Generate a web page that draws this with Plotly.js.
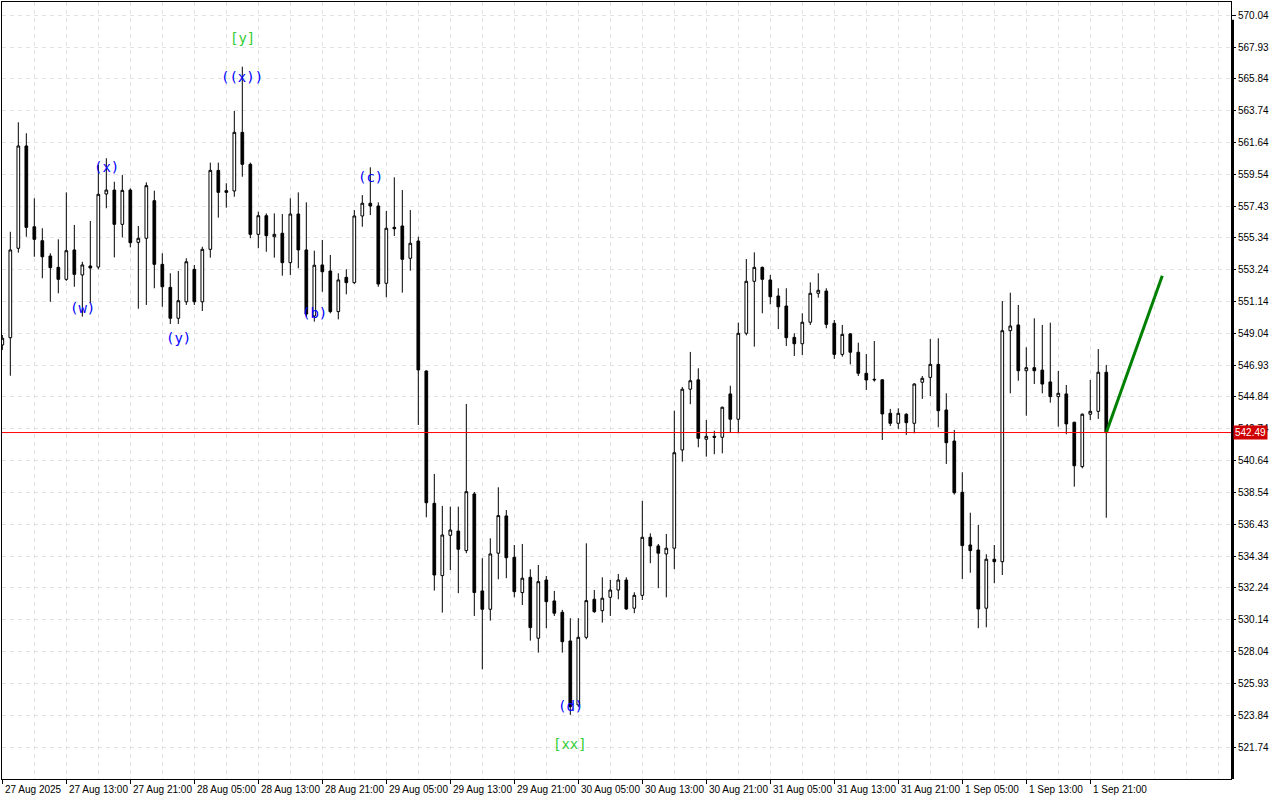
<!DOCTYPE html>
<html><head><meta charset="utf-8">
<script src="https://cdn.plot.ly/plotly-3.0.1.min.js"></script>
<style>html,body{margin:0;padding:0;background:#fff;}#chart{width:1280px;height:800px;}</style>
</head><body><div id="chart"></div>
<script>
// Hourly bars from 27 Aug 2025 05:00
const openP = [548.27,548.75,554.65,561.40,556.07,555.15,554.14,553.39,552.60,554.54,
552.89,553.48,553.41,558.23,558.49,556.23,558.49,555.04,555.31,557.79,
553.59,552.07,550.03,551.12,553.26,551.12,554.58,559.79,558.45,558.43,
562.30,560.19,555.57,556.80,555.41,555.64,553.70,556.91,554.54,550.18,
553.55,553.15,550.47,552.73,552.38,556.78,557.62,557.44,552.34,556.03,
556.12,553.99,555.13,546.55,537.82,533.05,535.71,535.99,534.70,538.44,
532.04,530.83,534.53,536.99,534.26,531.93,532.94,528.92,532.76,531.38,
530.63,528.74,524.52,528.98,531.49,530.74,531.62,532.10,532.76,530.90,
531.75,535.58,535.01,534.48,534.86,541.34,545.35,545.97,542.05,542.24,
542.18,545.04,543.37,549.04,552.47,553.39,552.56,551.50,550.84,548.77,
548.35,549.77,551.68,551.83,549.70,547.65,549.00,547.79,546.40,545.96,
545.97,543.76,543.10,543.70,543.10,545.81,546.13,546.99,543.98,541.93,
538.55,535.07,534.74,530.90,534.13,533.97,549.21,549.59,546.57,546.77,
546.61,545.83,544.86,545.04,543.17,540.24,543.70,543.89,546.47];
const highP = [548.93,555.74,562.96,562.24,557.95,555.97,554.32,555.24,558.34,556.19,
553.76,556.45,560.14,560.59,559.04,559.48,558.60,556.12,559.00,558.45,
554.32,553.00,553.15,553.99,553.55,554.75,560.30,560.30,558.94,563.71,
566.63,560.30,557.06,556.95,556.95,556.91,557.95,558.34,557.68,554.49,
555.20,554.21,553.00,553.26,557.17,558.16,559.99,557.68,557.11,559.33,
558.49,557.17,555.41,546.60,539.76,537.65,537.60,537.60,544.38,538.57,
534.20,535.51,538.88,537.38,535.07,535.14,533.47,533.75,533.03,532.04,
530.79,530.24,530.24,535.18,532.10,532.94,532.76,533.16,532.94,531.95,
537.98,535.84,535.14,535.80,543.93,545.50,547.81,546.73,543.32,542.61,
544.20,545.58,549.74,553.94,554.38,553.45,552.89,552.01,552.01,549.04,
550.36,552.40,553.00,552.01,549.92,549.59,549.06,548.42,547.67,548.53,
546.00,544.05,544.09,543.76,545.75,546.22,548.66,548.71,545.08,542.66,
539.87,537.20,536.39,534.46,535.07,551.17,551.72,550.91,548.12,550.03,
549.59,549.74,546.55,545.63,543.20,543.75,545.96,548.00,546.95];
const lowP = [547.94,546.24,554.36,555.41,554.09,552.67,551.12,551.68,552.50,552.11,
550.14,551.06,553.26,557.29,554.05,555.37,554.71,550.66,550.91,552.01,
550.79,549.65,549.65,550.91,550.91,550.51,554.03,556.67,557.33,558.05,
559.37,555.31,554.65,554.42,554.03,552.84,552.89,553.33,550.14,549.81,
551.78,550.36,549.96,551.61,552.30,556.07,556.84,552.11,551.41,555.46,
551.72,553.17,542.99,536.90,532.06,530.61,533.42,531.89,534.53,530.39,
526.87,530.08,532.81,532.88,531.62,531.11,528.76,527.97,529.58,530.39,
527.97,523.86,524.39,528.85,530.60,529.95,530.39,531.49,530.79,530.57,
531.44,533.87,532.22,531.62,533.47,540.57,544.36,541.52,540.90,541.06,
541.12,542.48,542.44,548.90,548.16,550.36,550.95,549.32,548.20,547.54,
547.61,549.59,551.39,549.37,547.35,547.50,546.99,546.22,545.30,545.85,
542.00,542.92,542.73,542.33,542.44,544.71,544.90,542.84,540.42,538.40,
532.83,533.24,529.58,529.64,532.55,533.09,545.08,545.91,543.60,545.69,
545.08,544.46,542.88,542.38,538.92,540.13,543.32,543.39,536.87];
const closeP = [548.71,554.54,561.40,556.03,555.24,554.09,553.37,552.60,554.49,552.93,
553.55,553.35,558.21,558.49,556.23,558.47,555.02,555.31,558.78,553.59,
552.11,550.03,551.19,553.76,551.12,554.58,559.79,558.34,558.34,562.30,
560.19,555.57,556.80,555.48,555.57,553.70,556.91,554.54,550.31,553.53,
553.10,550.47,552.56,552.38,556.78,557.62,557.44,552.29,555.97,555.94,
553.92,554.98,546.62,537.86,533.09,535.73,536.06,534.79,538.59,531.93,
530.83,534.48,537.01,534.23,531.99,532.88,529.62,532.65,531.33,530.57,
528.69,524.40,528.98,531.40,530.67,531.56,532.10,532.76,530.85,531.75,
535.58,535.01,534.53,534.86,541.16,545.35,545.91,542.11,542.24,542.18,
544.16,543.37,549.04,552.47,553.39,552.60,551.45,550.79,548.75,548.35,
549.77,551.68,551.88,549.63,547.65,548.97,547.79,546.40,545.96,546.00,
543.72,543.10,543.76,543.14,545.69,546.07,546.99,543.93,541.82,538.52,
535.03,534.70,530.85,534.13,533.97,549.21,549.52,546.57,546.77,546.57,
545.69,544.86,545.08,543.06,540.30,543.70,543.89,546.47,542.49];
const barIndex = openP.map((_, i) => i);

const timeTickIdx = [0,8,16,24,32,40,48,56,64,72,80,88,96,104,112,120,128,136];
const timeTickText = ['27 Aug 2025','27 Aug 13:00','27 Aug 21:00','28 Aug 05:00','28 Aug 13:00',
 '28 Aug 21:00','29 Aug 05:00','29 Aug 13:00','29 Aug 21:00','30 Aug 05:00','30 Aug 13:00',
 '30 Aug 21:00','31 Aug 05:00','31 Aug 13:00','31 Aug 21:00','1 Sep 05:00','1 Sep 13:00','1 Sep 21:00'];

const priceTicks = [570.04,567.93,565.84,563.74,561.64,559.54,557.43,555.34,553.24,551.14,549.04,
 546.93,544.84,542.74,540.64,538.54,536.43,534.34,532.24,530.14,528.04,525.93,523.84,521.74];

const bidPrice = 542.49;
const forecastIdx = [138, 145];
const forecastPrice = [542.49, 552.84];

const waveText = ['[y]','((x))','(x)','(w)','(y)','(b)','(c)','(d)','[xx]'];
const waveIdx = [30, 30, 13, 10, 22, 39, 46, 71, 71];
const wavePrice = [568.52, 565.95, 560.01, 550.71, 548.73, 550.38, 559.35, 524.45, 521.94];

const gridCol = '#e2e2e2';
const gridDash = '4px,4px';
const axFont = {family: 'Liberation Sans, Arial, sans-serif', size: 10, color: '#000'};

const traces = [
 {
  type: 'candlestick', x: barIndex, open: openP, high: highP, low: lowP, close: closeP,
  increasing: {line: {color: '#000', width: 1}, fillcolor: '#ffffff'},
  decreasing: {line: {color: '#000', width: 1}, fillcolor: '#000000'},
  whiskerwidth: 0, hoverinfo: 'skip', showlegend: false
 },
 {
  type: 'scatter', mode: 'lines', x: forecastIdx, y: forecastPrice,
  line: {color: '#008000', width: 3}, hoverinfo: 'skip', showlegend: false
 }
];

const annotations = waveText.map((t, i) => ({
  x: waveIdx[i], y: wavePrice[i], xref: 'x', yref: 'y', text: t, showarrow: false,
  font: {family: 'DejaVu Sans Mono, monospace', size: 14, color: t.startsWith('[') ? '#33cc33' : '#0000ff'}
}));
// time labels, left-aligned at their tick like the terminal does
timeTickText.forEach((t, i) => annotations.push({
  x: timeTickIdx[i], xref: 'x', xanchor: 'left', xshift: 1, y: 0, yref: 'paper', yanchor: 'top', yshift: -3,
  text: t, showarrow: false, font: axFont
}));
annotations.push({
  xref: 'paper', x: 1, xanchor: 'left', xshift: 2, yref: 'y', y: bidPrice, yanchor: 'middle',
  text: bidPrice.toFixed(2), showarrow: false, bgcolor: '#d00000', borderpad: 1,
  font: {family: 'Liberation Sans, Arial, sans-serif', size: 10, color: '#ffffff'}
});

const layout = {
  width: 1280, height: 800,
  margin: {l: 2, r: 49, t: 2, b: 21, pad: 0},
  paper_bgcolor: '#ffffff', plot_bgcolor: '#ffffff',
  showlegend: false, boxgap: 0.52, hovermode: false,
  xaxis: {
    range: [-0.04, 153.59], rangeslider: {visible: false},
    tickmode: 'array', tickvals: timeTickIdx, ticktext: timeTickIdx.map(() => ''),
    ticks: 'outside', ticklen: 4, tickcolor: '#000',
    showgrid: true, gridcolor: gridCol, griddash: gridDash, gridwidth: 1,
    minor: {tickmode: 'linear', tick0: 0, dtick: 4, showgrid: true, gridcolor: gridCol, griddash: gridDash, ticks: ''},
    showline: true, linecolor: '#000', linewidth: 1, mirror: true, zeroline: false,
    tickfont: axFont, fixedrange: true
  },
  yaxis: {
    side: 'right', range: [519.63, 570.90],
    tickmode: 'array', tickvals: priceTicks, ticktext: priceTicks.map(v => v.toFixed(2)),
    ticks: 'outside', ticklen: 4, tickcolor: '#000',
    showgrid: true, gridcolor: gridCol, griddash: gridDash, gridwidth: 1,
    showline: true, linecolor: '#000', linewidth: 1, mirror: true, zeroline: false,
    tickfont: axFont, fixedrange: true
  },
  shapes: [
    {type: 'line', xref: 'paper', x0: 0, x1: 1, yref: 'y', y0: bidPrice, y1: bidPrice,
     line: {color: '#ff0000', width: 1}, layer: 'above'},
    {type: 'rect', xref: 'paper', x0: 1, x1: 1 + 3/1229, yref: 'paper', y0: 0, y1: 0.977,
     fillcolor: '#000', line: {width: 0}, layer: 'above'}
  ],
  annotations: annotations
};

Plotly.newPlot('chart', traces, layout, {displayModeBar: false, staticPlot: true});
</script>
</body></html>
